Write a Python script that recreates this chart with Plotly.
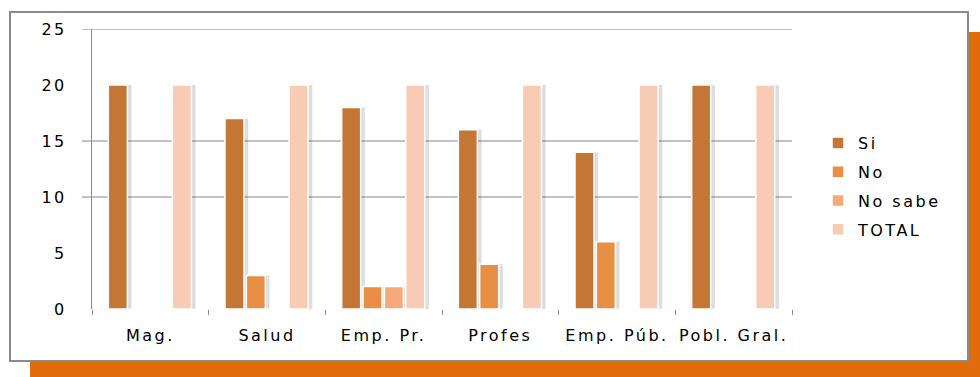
import plotly.graph_objects as go

# Survey answers per group
categories = ["Mag.", "Salud", "Emp. Pr.", "Profes", "Emp. Púb.", "Pobl. Gral."]
si = [20, 17, 18, 16, 14, 20]
no = [0, 3, 2, 4, 6, 0]
no_sabe = [0, 0, 2, 0, 0, 0]
total = [20, 20, 20, 20, 20, 20]

series = [
    ("Si", si, "#C47735"),
    ("No", no, "#E88E45"),
    ("No sabe", no_sabe, "#F6A979"),
    ("TOTAL", total, "#F8CBB4"),
]

# plot area geometry (pixels) used to place the decorative frame in paper units
L, R, T, B = 92, 792, 29, 309
W, H = R - L, B - T


def px_x(p):
    return (p - L) / W


def px_y(p):
    return (B - p) / H


bar_w = 0.163
step = 0.183
first_off = -0.36

fig = go.Figure()

# soft drop shadows behind each bar
for i, (name, vals, color) in enumerate(series):
    off = first_off + i * step
    fig.add_trace(go.Bar(
        x=categories, y=vals, offset=off + 0.02, width=bar_w + 0.016,
        marker=dict(color="rgba(0,0,0,0.13)", line=dict(width=0)),
        showlegend=False, hoverinfo="skip",
    ))

for i, (name, vals, color) in enumerate(series):
    off = first_off + i * step
    fig.add_trace(go.Bar(
        x=categories, y=vals, name=name, offset=off, width=bar_w,
        marker=dict(color=color, line=dict(color="white", width=1.5)),
        legendgroup=name,
    ))

shapes = [
    # orange backdrop
    dict(type="rect", xref="paper", yref="paper", layer="below",
         x0=px_x(30), x1=px_x(990), y0=px_y(390), y1=px_y(32),
         fillcolor="#E26B0A", line=dict(width=0)),
    # white card with grey border
    dict(type="rect", xref="paper", yref="paper", layer="below",
         x0=px_x(10), x1=px_x(968), y0=px_y(361), y1=px_y(12),
         fillcolor="white", line=dict(color="#8A8A8A", width=2)),
]
# horizontal gridlines, extended slightly left of the axis
for gv in [10, 15, 25]:
    shapes.append(dict(type="line", xref="paper", yref="y", layer="below",
                       x0=px_x(82), x1=1, y0=gv, y1=gv,
                       line=dict(color="#868686", width=1)))

font_family = "DejaVu Sans"
fsize = 16
text_color = "#000000"

fig.update_layout(
    width=980, height=377,
    margin=dict(l=L, r=980 - R, t=T, b=377 - B, pad=0),
    paper_bgcolor="white",
    plot_bgcolor="rgba(0,0,0,0)",
    barmode="overlay",
    shapes=shapes,
    font=dict(family=font_family, size=fsize, color=text_color),
    showlegend=True,
    legend=dict(
        x=px_x(818), xanchor="left", y=px_y(126), yanchor="top",
        font=dict(family=font_family, size=fsize, color=text_color),
        traceorder="grouped", tracegroupgap=5,
        bgcolor="rgba(0,0,0,0)",
    ),
    xaxis=dict(
        type="category",
        showgrid=False, zeroline=False, showline=False,
        ticks="outside", ticklen=5, tickcolor="#8A8A8A", tickwidth=1,
        tickson="boundaries",
        ticklabelstandoff=15,
        tickfont=dict(family=font_family, size=fsize, color=text_color),
    ),
    yaxis=dict(
        range=[0, 25], tickvals=[0, 5, 10, 15, 20, 25],
        showgrid=False, zeroline=False,
        showline=True, linecolor="#8A8A8A", linewidth=1,
        ticks="", ticklabelstandoff=21,
        tickfont=dict(family=font_family, size=fsize, color=text_color),
    ),
)

spacing_js = """
var gd = document.getElementById('{plot_id}');
function widen() {
  gd.querySelectorAll('.xtick text, .ytick text, .legendtext').forEach(function (t) {
    t.style.letterSpacing = '2.5px';
  });
  gd.querySelectorAll('.legend [clip-path]').forEach(function (g) {
    g.removeAttribute('clip-path');
  });
}
widen();
if (gd.on) { gd.on('plotly_afterplot', widen); }
"""

fig.write_html("out.html", post_script=spacing_js)
